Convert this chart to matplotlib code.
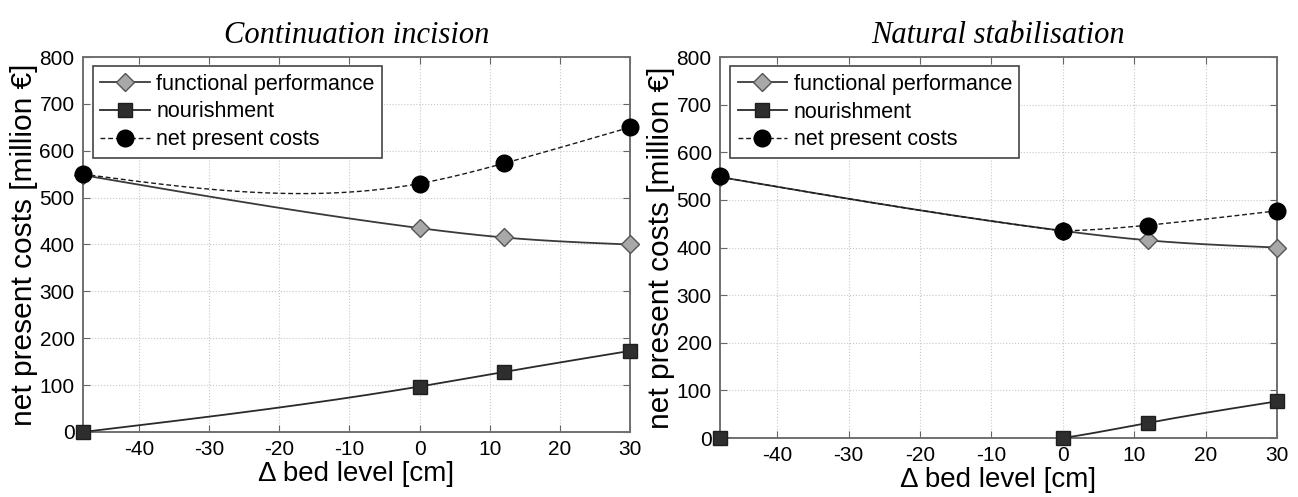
import numpy as np
import matplotlib
matplotlib.use("Agg")
from matplotlib import pyplot as plt

# bed level change scenarios [cm]
bed_level = [-48, 0, 12, 30]

# Continuation incision
inc_functional = [548, 435, 415, 400]
inc_nourishment = [0, 97, 128, 173]
inc_npc = [550, 530, 573, 650]

# Natural stabilisation
nat_functional = [548, 435, 415, 400]
nat_nourishment = [0, 0, 32, 77]
nat_npc = [550, 435, 445, 477]

titles = ["Continuation incision", "Natural stabilisation"]
x_ticks = [-40, -30, -20, -10, 0, 10, 20, 30]
y_ticks = [0, 100, 200, 300, 400, 500, 600, 700, 800]

plt.rcParams['font.family'] = ['Liberation Sans', 'DejaVu Sans']
plt.rcParams['axes.unicode_minus'] = False


def natural_spline(x, y, xs):
  # natural cubic spline through the points, only used for the drawn line
  x = np.asarray(x, float)
  y = np.asarray(y, float)
  n = len(x)
  h = np.diff(x)
  A = np.zeros((n, n))
  r = np.zeros(n)
  A[0, 0] = A[-1, -1] = 1
  for i in range(1, n - 1):
    A[i, i - 1] = h[i - 1]
    A[i, i] = 2 * (h[i - 1] + h[i])
    A[i, i + 1] = h[i]
    r[i] = 6 * ((y[i + 1] - y[i]) / h[i] - (y[i] - y[i - 1]) / h[i - 1])
  M = np.linalg.solve(A, r)
  idx = np.clip(np.searchsorted(x, xs) - 1, 0, n - 2)
  a = xs - x[idx]
  b = x[idx + 1] - xs
  hh = h[idx]
  return (M[idx] * b**3 / (6 * hh) + M[idx + 1] * a**3 / (6 * hh)
          + (y[idx] / hh - M[idx] * hh / 6) * b
          + (y[idx + 1] / hh - M[idx + 1] * hh / 6) * a)


DASH = (3.5, 2.0)


def panel(ax, functional, nourishment, npc, title, npc_is_sum=False):
  xs = np.linspace(bed_level[0], bed_level[-1], 400)
  f_curve = natural_spline(bed_level, functional, xs)
  n_curve = natural_spline(bed_level, nourishment, xs)
  if npc_is_sum:
    # here the net present costs are functional performance + nourishment
    c_curve = f_curve + np.maximum(n_curve, 0)
  else:
    c_curve = natural_spline(bed_level, npc, xs)

  ax.plot(xs, f_curve, '-', color='#3a3a3a', lw=1.3, zorder=3)
  ax.plot(xs, n_curve, '-', color='#2a2a2a', lw=1.3, zorder=3)
  ax.plot(xs, c_curve, '--', color='#1a1a1a', lw=1.0, dashes=DASH, zorder=4)

  ax.plot(bed_level, functional, 'D', ms=9, mfc='#a8a8a8', mec='#555555',
          mew=1, zorder=5, clip_on=False)
  ax.plot(bed_level, nourishment, 's', ms=10, mfc='#2e2e2e', mec='#1e1e1e',
          zorder=5, clip_on=False)
  ax.plot(bed_level, npc, 'o', ms=12, mfc='black', mec='black',
          zorder=6, clip_on=False)

  # legend handles
  h1, = ax.plot([], [], '-D', color='#3a3a3a', lw=1.3, ms=9, mfc='#a8a8a8', mec='#555555')
  h2, = ax.plot([], [], '-s', color='#2a2a2a', lw=1.3, ms=10, mfc='#2e2e2e', mec='#1e1e1e')
  h3, = ax.plot([], [], '--o', color='#1a1a1a', lw=1.0, dashes=DASH, ms=12,
                mfc='black', mec='black')
  leg = ax.legend([h1, h2, h3],
                  ["functional performance", "nourishment", "net present costs"],
                  loc='upper left', bbox_to_anchor=(0.018, 0.976), fontsize=15.5,
                  fancybox=False, framealpha=1, edgecolor='#444444',
                  handlelength=2.3, handletextpad=0.3, borderpad=0.35,
                  labelspacing=0.32, borderaxespad=0)
  leg.get_frame().set_linewidth(1.2)

  ax.set_xlim(-48, 30)
  ax.set_ylim(0, 800)
  ax.set_xticks(x_ticks)
  ax.set_yticks(y_ticks)
  ax.tick_params(direction='in', top=True, right=True, length=5,
                 labelsize=15, color='#666666', pad=6)
  for s in ax.spines.values():
    s.set_color('#707070')
    s.set_linewidth(1.4)
  ax.grid(True, linestyle=':', color='#c8c8c8', lw=0.8)
  ax.set_axisbelow(True)
  ax.set_xlabel("Δ bed level [cm]", fontsize=20, labelpad=1)
  ax.set_ylabel("net present costs [million €]", fontsize=21.5, labelpad=1)
  ax.set_title(title, fontsize=22, family='Liberation Serif', style='italic', pad=10)


fig = plt.figure(figsize=(12.98, 4.97), dpi=100)
ax1 = fig.add_axes([0.0639, 0.1308, 0.4214, 0.7545])
ax2 = fig.add_axes([0.5547, 0.1187, 0.4291, 0.7666])

panel(ax1, inc_functional, inc_nourishment, inc_npc, titles[0])
panel(ax2, nat_functional, nat_nourishment, nat_npc, titles[1], npc_is_sum=True)

fig.savefig("out.png", dpi=100)
